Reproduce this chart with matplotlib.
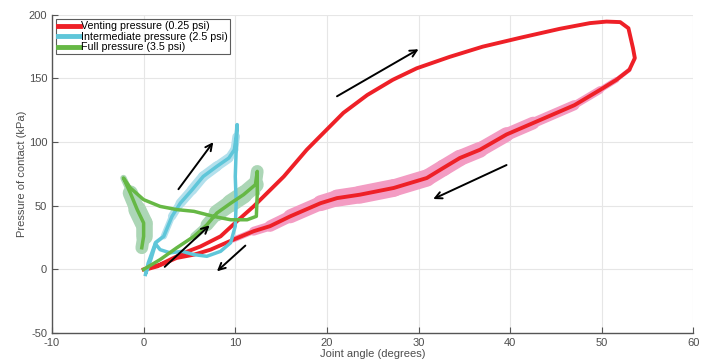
"""Pressure of contact vs joint angle for three actuation pressures"""

import numpy as np
import matplotlib
matplotlib.use('Agg')
import matplotlib.pyplot as plt
from matplotlib.collections import LineCollection

plt.rcParams['font.family'] = ['Liberation Sans', 'DejaVu Sans']
plt.rcParams['axes.unicode_minus'] = False

# venting pressure: loading branch then return branch (deg, kPa)
vent_load_x = [0, 1.8, 4.4, 6.2, 8.4, 10.2, 12.0, 15.3, 17.8, 18.9, 21.8, 24.4,
               27.2, 29.8, 33.4, 37.0, 41.1, 45.4, 48.7, 50.5, 52.0, 52.9, 53.4, 53.6]
vent_load_y = [0, 3.8, 13, 18, 26, 38, 49.5, 73, 94, 102, 123, 137,
               149, 158, 167, 175, 182, 189, 193.5, 194.7, 194.3, 189.5, 173.8, 166]
vent_ret_x = [53.6, 53.0, 51.6, 49.8, 47.0, 42.5, 39.6, 36.7, 34.5, 32.7, 30.9, 27.3,
              23.6, 21.1, 19.3, 16.0, 13.8, 12.0, 9.8, 7.3, 5.5, 3.6, 1.5, 0.3]
vent_ret_y = [166, 156.8, 149, 141, 129, 115, 106, 94, 87.5, 79.7, 71.8, 64,
              58.7, 56, 52, 41.7, 34, 30, 23.4, 15.5, 11.6, 9, 2.4, 0]
vent_ret_sd = [0.5, 1.5, 2, 2.5, 3.5, 4.5, 5.5, 6, 6.5, 6.5, 6.5, 7,
               7, 6.5, 6, 5, 4, 3, 1.5, 0.5, 0, 0, 0, 0]

# intermediate pressure
mid_x = [0.2, 0.5, 1.3, 2.2, 3.1, 4.0, 5.3, 6.5, 8.0, 9.3, 9.9, 10.1, 10.2,
         10.1, 10.0, 10.1, 10.0, 9.5, 8.4, 6.9, 5.5, 4.2, 2.9, 1.8, 1.3, 0.8, 0.3]
mid_y = [-4, 5, 21, 26, 41.7, 52, 62.6, 73, 81, 87.5, 94, 104.5, 113.7,
         94, 73, 52, 34, 21, 14.2, 10.3, 11.6, 14.2, 13, 15.5, 20, 8, -2]
mid_sd = [0, 0, 1, 2, 3, 3.5, 4, 4, 4, 3.5, 3, 3, 0,
          0, 0, 0, 0, 0, 0, 0, 0, 0, 0, 0, 0, 0, 0]

# full pressure
full_x = [0, 1.8, 3.6, 5.5, 6.9, 8.0, 9.5, 10.9, 12.2, 12.4, 12.4, 12.3,
          11.3, 9.5, 7.6, 5.5, 3.6, 1.8, 0, -1.45, -2.2,
          -1.45, -0.7, 0, 0, -0.2]
full_y = [0, 7.7, 16.9, 26, 35, 44.3, 52, 58.7, 66.6, 77, 60, 41.7,
          39, 39, 41.7, 45.6, 47, 49.5, 54.8, 64, 71.8,
          60, 47, 36.5, 26, 17]
full_sd = [0, 0, 0, 2, 4, 6, 7, 7, 6, 4, 0, 0,
           0, 0, 0, 0, 0, 0, 0, 0, 0,
           5, 7, 7, 6, 4]

# direction arrows: (tail x, tail y, head x, head y)
arrows = [(21.1, 136, 30.0, 173), (39.6, 82, 31.6, 55.3), (3.8, 63, 7.6, 100),
          (2.3, 2, 7.2, 34.6), (11.1, 18.7, 8.0, -1.5)]

labels = ['Venting pressure (0.25 psi)', 'Intermediate pressure (2.5 psi)',
          'Full pressure (3.5 psi)']
colors = ['#ee2027', '#5fc6d9', '#66b845']
band_colors = ['#f39cc3', '#b3e0ec', '#acd6b6']


def add_band(ax, x, y, sd, color):
    """Draw a spread band as a variable-width line under the mean curve."""
    pts = np.column_stack([x, y]).reshape(-1, 1, 2)
    segs = np.concatenate([pts[:-1], pts[1:]], axis=1)
    sd = np.asarray(sd, dtype=float)
    widths = (sd[:-1] + sd[1:]) / 2 * 2 * 1.274 * 0.72
    lc = LineCollection(segs, linewidths=widths, colors=color,
                        capstyle='round', joinstyle='round', zorder=2)
    ax.add_collection(lc)


fig = plt.figure(figsize=[7.12, 3.62], dpi=100)
ax = fig.add_axes([0.073, 0.08, 0.901, 0.879])

add_band(ax, vent_ret_x, vent_ret_y, vent_ret_sd, band_colors[0])
add_band(ax, mid_x, mid_y, mid_sd, band_colors[1])
add_band(ax, full_x, full_y, full_sd, band_colors[2])

ax.plot(vent_load_x + vent_ret_x, vent_load_y + vent_ret_y, color=colors[0],
        lw=2.8, label=labels[0], zorder=3, solid_joinstyle='round')
ax.plot(mid_x, mid_y, color=colors[1], lw=2.5, label=labels[1], zorder=3,
        solid_joinstyle='round')
ax.plot(full_x, full_y, color=colors[2], lw=2.5, label=labels[2], zorder=4,
        solid_joinstyle='round')

for x0, y0, x1, y1 in arrows:
    ax.annotate('', xy=(x1, y1), xytext=(x0, y0),
                arrowprops=dict(arrowstyle='->', color='black', lw=1.4,
                                mutation_scale=12, shrinkA=0, shrinkB=0),
                zorder=5)

ax.set_xlim(-10, 60)
ax.set_ylim(-50, 200)
ax.set_xticks(np.arange(-10, 61, 10))
ax.set_yticks(np.arange(-50, 201, 50))
ax.grid(True, color='#e6e6e6', lw=0.8)
ax.set_axisbelow(True)
for side in ['top', 'right']:
    ax.spines[side].set_visible(False)
for side in ['left', 'bottom']:
    ax.spines[side].set_color('#555555')
    ax.spines[side].set_linewidth(1.0)
ax.tick_params(direction='in', length=4, width=0.8, color='#555555',
               labelcolor='#4d4d4d', labelsize=8)

ax.set_xlabel('Joint angle (degrees)', fontsize=8, color='#4d4d4d', labelpad=1)
ax.set_ylabel('Pressure of contact (kPa)', fontsize=8, color='#4d4d4d', labelpad=1)

leg = ax.legend(loc='upper left', fontsize=7.7, frameon=True, fancybox=False,
                handlelength=2.0, handletextpad=0.1, borderpad=0.2,
                labelspacing=0.05, borderaxespad=0.4)
leg.get_frame().set_edgecolor('#333333')
leg.get_frame().set_linewidth(0.8)
for line in leg.get_lines():
    line.set_linewidth(3.5)

plt.savefig('out.png', dpi=100)
